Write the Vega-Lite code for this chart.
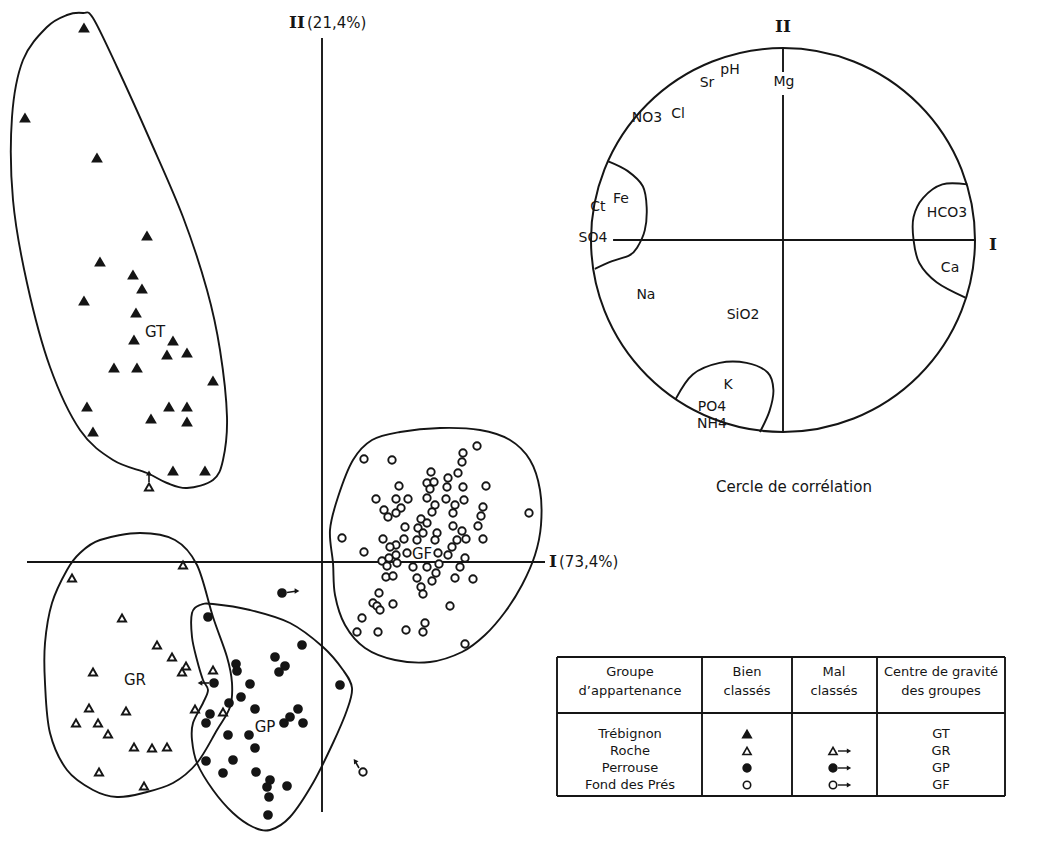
{
"$schema": "https://vega.github.io/schema/vega-lite/v6.json",
"width": 1040, "height": 842,
"autosize": {"type": "fit", "contains": "padding"},
"padding": 0,
"background": "white",
"config": {"view": {"stroke": null}, "font": "DejaVu Sans"},
"datasets": {
"axes_acp": [
 {"x": -2.95, "y": 0, "x2": 2.23, "y2": 0},
 {"x": 0, "y": 5.24, "x2": 0, "y2": -2.50}
],
"enveloppes": [
 {"h":"GT","i":1,"x":-2.39,"y":5.49},{"h":"GT","i":2,"x":-2.29,"y":5.44},{"h":"GT","i":3,"x":-2.05,"y":4.95},{"h":"GT","i":4,"x":-1.72,"y":4.22},{"h":"GT","i":5,"x":-1.39,"y":3.45},{"h":"GT","i":6,"x":-1.15,"y":2.72},{"h":"GT","i":7,"x":-1.02,"y":2.12},{"h":"GT","i":8,"x":-0.95,"y":1.45},{"h":"GT","i":9,"x":-0.99,"y":1.02},{"h":"GT","i":10,"x":-1.09,"y":0.82},{"h":"GT","i":11,"x":-1.35,"y":0.74},{"h":"GT","i":12,"x":-1.55,"y":0.79},{"h":"GT","i":13,"x":-1.75,"y":0.89},{"h":"GT","i":14,"x":-2.09,"y":1.02},{"h":"GT","i":15,"x":-2.42,"y":1.32},{"h":"GT","i":16,"x":-2.72,"y":1.95},{"h":"GT","i":17,"x":-2.95,"y":2.79},{"h":"GT","i":18,"x":-3.09,"y":3.62},{"h":"GT","i":19,"x":-3.10,"y":4.45},{"h":"GT","i":20,"x":-2.99,"y":5.02},{"h":"GT","i":21,"x":-2.75,"y":5.35},{"h":"GT","i":22,"x":-2.55,"y":5.47},
 {"h":"GR","i":1,"x":-2.22,"y":0.22},{"h":"GR","i":2,"x":-1.82,"y":0.29},{"h":"GR","i":3,"x":-1.47,"y":0.22},{"h":"GR","i":4,"x":-1.25,"y":-0.03},{"h":"GR","i":5,"x":-1.09,"y":-0.55},{"h":"GR","i":6,"x":-0.95,"y":-0.95},{"h":"GR","i":7,"x":-0.90,"y":-1.21},{"h":"GR","i":8,"x":-0.92,"y":-1.45},{"h":"GR","i":9,"x":-1.05,"y":-1.68},{"h":"GR","i":10,"x":-1.25,"y":-2.01},{"h":"GR","i":11,"x":-1.49,"y":-2.21},{"h":"GR","i":12,"x":-1.79,"y":-2.31},{"h":"GR","i":13,"x":-2.05,"y":-2.35},{"h":"GR","i":14,"x":-2.29,"y":-2.28},{"h":"GR","i":15,"x":-2.55,"y":-2.08},{"h":"GR","i":16,"x":-2.72,"y":-1.71},{"h":"GR","i":17,"x":-2.77,"y":-1.21},{"h":"GR","i":18,"x":-2.77,"y":-0.81},{"h":"GR","i":19,"x":-2.70,"y":-0.41},{"h":"GR","i":20,"x":-2.55,"y":-0.08},{"h":"GR","i":21,"x":-2.42,"y":0.09},
 {"h":"GP","i":1,"x":-1.22,"y":-0.43},{"h":"GP","i":2,"x":-1.09,"y":-0.42},{"h":"GP","i":3,"x":-0.72,"y":-0.48},{"h":"GP","i":4,"x":-0.32,"y":-0.61},{"h":"GP","i":5,"x":0.01,"y":-0.85},{"h":"GP","i":6,"x":0.21,"y":-1.08},{"h":"GP","i":7,"x":0.30,"y":-1.26},{"h":"GP","i":8,"x":0.25,"y":-1.48},{"h":"GP","i":9,"x":0.11,"y":-1.81},{"h":"GP","i":10,"x":-0.09,"y":-2.21},{"h":"GP","i":11,"x":-0.32,"y":-2.55},{"h":"GP","i":12,"x":-0.52,"y":-2.68},{"h":"GP","i":13,"x":-0.69,"y":-2.65},{"h":"GP","i":14,"x":-0.89,"y":-2.51},{"h":"GP","i":15,"x":-1.09,"y":-2.28},{"h":"GP","i":16,"x":-1.25,"y":-2.01},{"h":"GP","i":17,"x":-1.30,"y":-1.78},{"h":"GP","i":18,"x":-1.29,"y":-1.61},{"h":"GP","i":19,"x":-1.19,"y":-1.41},{"h":"GP","i":20,"x":-1.14,"y":-1.28},{"h":"GP","i":21,"x":-1.19,"y":-1.18},{"h":"GP","i":22,"x":-1.25,"y":-0.98},{"h":"GP","i":23,"x":-1.30,"y":-0.75},{"h":"GP","i":24,"x":-1.30,"y":-0.51},
 {"h":"GF","i":1,"x":0.11,"y":-0.01},{"h":"GF","i":2,"x":0.08,"y":0.32},{"h":"GF","i":3,"x":0.16,"y":0.65},{"h":"GF","i":4,"x":0.31,"y":1.02},{"h":"GF","i":5,"x":0.50,"y":1.22},{"h":"GF","i":6,"x":0.78,"y":1.30},{"h":"GF","i":7,"x":1.18,"y":1.34},{"h":"GF","i":8,"x":1.58,"y":1.32},{"h":"GF","i":9,"x":1.88,"y":1.22},{"h":"GF","i":10,"x":2.08,"y":1.02},{"h":"GF","i":11,"x":2.18,"y":0.72},{"h":"GF","i":12,"x":2.19,"y":0.37},{"h":"GF","i":13,"x":2.13,"y":0.07},{"h":"GF","i":14,"x":2.00,"y":-0.23},{"h":"GF","i":15,"x":1.83,"y":-0.50},{"h":"GF","i":16,"x":1.63,"y":-0.73},{"h":"GF","i":17,"x":1.40,"y":-0.90},{"h":"GF","i":18,"x":1.08,"y":-1.00},{"h":"GF","i":19,"x":0.73,"y":-0.98},{"h":"GF","i":20,"x":0.43,"y":-0.86},{"h":"GF","i":21,"x":0.23,"y":-0.63},{"h":"GF","i":22,"x":0.13,"y":-0.33}
],
"points": [
 {"g":"Trébignon","x":-2.38,"y":5.34},{"g":"Trébignon","x":-2.97,"y":4.44},{"g":"Trébignon","x":-2.25,"y":4.04},{"g":"Trébignon","x":-1.75,"y":3.26},{"g":"Trébignon","x":-2.22,"y":3.00},{"g":"Trébignon","x":-1.89,"y":2.87},{"g":"Trébignon","x":-1.80,"y":2.73},{"g":"Trébignon","x":-2.38,"y":2.61},{"g":"Trébignon","x":-1.86,"y":2.49},{"g":"Trébignon","x":-1.88,"y":2.22},{"g":"Trébignon","x":-1.49,"y":2.21},{"g":"Trébignon","x":-1.55,"y":2.07},{"g":"Trébignon","x":-1.35,"y":2.09},{"g":"Trébignon","x":-2.08,"y":1.94},{"g":"Trébignon","x":-1.85,"y":1.94},{"g":"Trébignon","x":-1.09,"y":1.81},{"g":"Trébignon","x":-2.35,"y":1.55},{"g":"Trébignon","x":-1.53,"y":1.55},{"g":"Trébignon","x":-1.35,"y":1.55},{"g":"Trébignon","x":-1.71,"y":1.43},{"g":"Trébignon","x":-1.35,"y":1.40},{"g":"Trébignon","x":-2.29,"y":1.30},{"g":"Trébignon","x":-1.49,"y":0.91},{"g":"Trébignon","x":-1.17,"y":0.91},
 {"g":"Roche","x":-1.39,"y":-0.03},{"g":"Roche","x":-2.50,"y":-0.16},{"g":"Roche","x":-2.00,"y":-0.56},{"g":"Roche","x":-1.65,"y":-0.83},{"g":"Roche","x":-1.50,"y":-0.95},{"g":"Roche","x":-1.36,"y":-1.04},{"g":"Roche","x":-1.40,"y":-1.10},{"g":"Roche","x":-1.09,"y":-1.08},{"g":"Roche","x":-2.29,"y":-1.10},{"g":"Roche","x":-2.33,"y":-1.46},{"g":"Roche","x":-1.96,"y":-1.49},{"g":"Roche","x":-1.27,"y":-1.47},{"g":"Roche","x":-0.99,"y":-1.50},{"g":"Roche","x":-2.46,"y":-1.61},{"g":"Roche","x":-2.24,"y":-1.61},{"g":"Roche","x":-2.14,"y":-1.72},{"g":"Roche","x":-1.88,"y":-1.85},{"g":"Roche","x":-1.70,"y":-1.86},{"g":"Roche","x":-1.55,"y":-1.85},{"g":"Roche","x":-2.23,"y":-2.10},{"g":"Roche","x":-1.78,"y":-2.24},{"g":"Roche","x":-1.73,"y":0.75},
 {"g":"Perrouse","x":-1.14,"y":-0.55},{"g":"Perrouse","x":-0.20,"y":-0.83},{"g":"Perrouse","x":-0.47,"y":-0.95},{"g":"Perrouse","x":-0.86,"y":-1.02},{"g":"Perrouse","x":-0.85,"y":-1.09},{"g":"Perrouse","x":-0.37,"y":-1.04},{"g":"Perrouse","x":-0.43,"y":-1.10},{"g":"Perrouse","x":-0.72,"y":-1.22},{"g":"Perrouse","x":0.18,"y":-1.23},{"g":"Perrouse","x":-0.81,"y":-1.35},{"g":"Perrouse","x":-0.93,"y":-1.41},{"g":"Perrouse","x":-0.67,"y":-1.47},{"g":"Perrouse","x":-0.24,"y":-1.47},{"g":"Perrouse","x":-1.12,"y":-1.52},{"g":"Perrouse","x":-1.16,"y":-1.61},{"g":"Perrouse","x":-0.32,"y":-1.55},{"g":"Perrouse","x":-0.38,"y":-1.61},{"g":"Perrouse","x":-0.19,"y":-1.61},{"g":"Perrouse","x":-0.94,"y":-1.73},{"g":"Perrouse","x":-0.73,"y":-1.73},{"g":"Perrouse","x":-0.67,"y":-1.86},{"g":"Perrouse","x":-1.16,"y":-1.99},{"g":"Perrouse","x":-0.89,"y":-1.98},{"g":"Perrouse","x":-0.99,"y":-2.11},{"g":"Perrouse","x":-0.66,"y":-2.10},{"g":"Perrouse","x":-0.52,"y":-2.18},{"g":"Perrouse","x":-0.55,"y":-2.25},{"g":"Perrouse","x":-0.35,"y":-2.24},{"g":"Perrouse","x":-0.53,"y":-2.35},{"g":"Perrouse","x":-0.54,"y":-2.53},{"g":"Perrouse","x":-0.40,"y":-0.31},{"g":"Perrouse","x":-1.08,"y":-1.21},
 {"g":"Fond des Prés","x":1.55,"y":1.16},{"g":"Fond des Prés","x":1.41,"y":1.09},{"g":"Fond des Prés","x":1.40,"y":1.00},{"g":"Fond des Prés","x":0.42,"y":1.03},{"g":"Fond des Prés","x":0.70,"y":1.02},{"g":"Fond des Prés","x":1.09,"y":0.90},{"g":"Fond des Prés","x":1.36,"y":0.89},{"g":"Fond des Prés","x":1.26,"y":0.84},{"g":"Fond des Prés","x":1.05,"y":0.79},{"g":"Fond des Prés","x":1.12,"y":0.80},{"g":"Fond des Prés","x":0.77,"y":0.76},{"g":"Fond des Prés","x":1.25,"y":0.75},{"g":"Fond des Prés","x":1.41,"y":0.75},{"g":"Fond des Prés","x":1.64,"y":0.76},{"g":"Fond des Prés","x":1.08,"y":0.73},{"g":"Fond des Prés","x":0.54,"y":0.63},{"g":"Fond des Prés","x":0.74,"y":0.63},{"g":"Fond des Prés","x":0.86,"y":0.63},{"g":"Fond des Prés","x":1.05,"y":0.64},{"g":"Fond des Prés","x":1.24,"y":0.63},{"g":"Fond des Prés","x":1.42,"y":0.62},{"g":"Fond des Prés","x":1.13,"y":0.57},{"g":"Fond des Prés","x":1.33,"y":0.57},{"g":"Fond des Prés","x":1.61,"y":0.55},{"g":"Fond des Prés","x":0.62,"y":0.52},{"g":"Fond des Prés","x":0.79,"y":0.54},{"g":"Fond des Prés","x":0.74,"y":0.49},{"g":"Fond des Prés","x":0.66,"y":0.45},{"g":"Fond des Prés","x":1.10,"y":0.50},{"g":"Fond des Prés","x":1.31,"y":0.49},{"g":"Fond des Prés","x":1.59,"y":0.46},{"g":"Fond des Prés","x":2.07,"y":0.49},{"g":"Fond des Prés","x":0.99,"y":0.43},{"g":"Fond des Prés","x":1.05,"y":0.39},{"g":"Fond des Prés","x":0.83,"y":0.35},{"g":"Fond des Prés","x":0.96,"y":0.34},{"g":"Fond des Prés","x":1.31,"y":0.36},{"g":"Fond des Prés","x":1.56,"y":0.36},{"g":"Fond des Prés","x":1.01,"y":0.29},{"g":"Fond des Prés","x":1.15,"y":0.29},{"g":"Fond des Prés","x":1.40,"y":0.31},{"g":"Fond des Prés","x":0.20,"y":0.24},{"g":"Fond des Prés","x":0.61,"y":0.23},{"g":"Fond des Prés","x":0.82,"y":0.23},{"g":"Fond des Prés","x":0.95,"y":0.22},{"g":"Fond des Prés","x":1.13,"y":0.22},{"g":"Fond des Prés","x":1.35,"y":0.22},{"g":"Fond des Prés","x":1.44,"y":0.23},{"g":"Fond des Prés","x":1.61,"y":0.23},{"g":"Fond des Prés","x":0.74,"y":0.17},{"g":"Fond des Prés","x":0.68,"y":0.15},{"g":"Fond des Prés","x":1.30,"y":0.15},{"g":"Fond des Prés","x":0.42,"y":0.10},{"g":"Fond des Prés","x":0.74,"y":0.07},{"g":"Fond des Prés","x":0.85,"y":0.09},{"g":"Fond des Prés","x":1.16,"y":0.09},{"g":"Fond des Prés","x":1.26,"y":0.07},{"g":"Fond des Prés","x":1.43,"y":0.04},{"g":"Fond des Prés","x":0.60,"y":0.01},{"g":"Fond des Prés","x":0.67,"y":0.04},{"g":"Fond des Prés","x":0.75,"y":-0.01},{"g":"Fond des Prés","x":0.65,"y":-0.04},{"g":"Fond des Prés","x":0.91,"y":-0.05},{"g":"Fond des Prés","x":1.05,"y":-0.05},{"g":"Fond des Prés","x":1.17,"y":-0.02},{"g":"Fond des Prés","x":1.38,"y":-0.05},{"g":"Fond des Prés","x":0.64,"y":-0.15},{"g":"Fond des Prés","x":0.71,"y":-0.14},{"g":"Fond des Prés","x":1.14,"y":-0.11},{"g":"Fond des Prés","x":0.95,"y":-0.16},{"g":"Fond des Prés","x":1.10,"y":-0.19},{"g":"Fond des Prés","x":1.33,"y":-0.16},{"g":"Fond des Prés","x":1.51,"y":-0.17},{"g":"Fond des Prés","x":0.99,"y":-0.25},{"g":"Fond des Prés","x":1.01,"y":-0.32},{"g":"Fond des Prés","x":0.57,"y":-0.31},{"g":"Fond des Prés","x":0.51,"y":-0.41},{"g":"Fond des Prés","x":0.55,"y":-0.44},{"g":"Fond des Prés","x":0.58,"y":-0.48},{"g":"Fond des Prés","x":0.71,"y":-0.42},{"g":"Fond des Prés","x":1.28,"y":-0.44},{"g":"Fond des Prés","x":0.40,"y":-0.56},{"g":"Fond des Prés","x":1.03,"y":-0.61},{"g":"Fond des Prés","x":0.35,"y":-0.70},{"g":"Fond des Prés","x":0.56,"y":-0.70},{"g":"Fond des Prés","x":0.84,"y":-0.68},{"g":"Fond des Prés","x":1.01,"y":-0.70},{"g":"Fond des Prés","x":1.43,"y":-0.82},{"g":"Fond des Prés","x":0.41,"y":-2.10}
],
"fleches": [
 {"x":-0.35,"y":-0.305,"x2":-0.25,"y2":-0.29,"dir":"droite"},
 {"x":-1.13,"y":-1.21,"x2":-1.22,"y2":-1.21,"dir":"gauche"},
 {"x":-1.73,"y":0.80,"x2":-1.73,"y2":0.89,"dir":"haut"},
 {"x":0.37,"y":-2.06,"x2":0.33,"y2":-1.99,"dir":"hautgauche"}
],
"centres": [
 {"t":"GT","x":-1.67,"y":2.30},{"t":"GR","x":-1.87,"y":-1.18},{"t":"GP","x":-0.57,"y":-1.65},{"t":"GF","x":1.00,"y":0.08}
],
"axes_noms": [{"t":"II","x":-0.25,"y":5.39},{"t":"I","x":2.31,"y":0.0}],
"axes_pct": [{"t":"(21,4%)","x":-0.15,"y":5.39},{"t":"(73,4%)","x":2.37,"y":0.0}],
"cercle": [{"x":0,"y":0}],
"cercle_axes": [
 {"x":-0.885,"y":0,"x2":1.0,"y2":0},
 {"x":0,"y":1.0,"x2":0,"y2":0.875},
 {"x":0,"y":0.755,"x2":0,"y2":-1.0}
],
"zones": [
 {"z":"Fe","i":1,"x":-0.91,"y":0.41},{"z":"Fe","i":2,"x":-0.81,"y":0.36},{"z":"Fe","i":3,"x":-0.73,"y":0.28},{"z":"Fe","i":4,"x":-0.71,"y":0.17},{"z":"Fe","i":5,"x":-0.72,"y":0.05},{"z":"Fe","i":6,"x":-0.76,"y":-0.04},{"z":"Fe","i":7,"x":-0.80,"y":-0.08},{"z":"Fe","i":8,"x":-0.89,"y":-0.11},{"z":"Fe","i":9,"x":-0.98,"y":-0.15},
 {"z":"HCO3","i":1,"x":0.96,"y":0.29},{"z":"HCO3","i":2,"x":0.83,"y":0.29},{"z":"HCO3","i":3,"x":0.73,"y":0.22},{"z":"HCO3","i":4,"x":0.68,"y":0.12},{"z":"HCO3","i":5,"x":0.68,"y":0.0},{"z":"HCO3","i":6,"x":0.71,"y":-0.12},{"z":"HCO3","i":7,"x":0.80,"y":-0.22},{"z":"HCO3","i":8,"x":0.95,"y":-0.30},
 {"z":"K","i":1,"x":-0.56,"y":-0.83},{"z":"K","i":2,"x":-0.47,"y":-0.70},{"z":"K","i":3,"x":-0.33,"y":-0.64},{"z":"K","i":4,"x":-0.19,"y":-0.64},{"z":"K","i":5,"x":-0.08,"y":-0.69},{"z":"K","i":6,"x":-0.05,"y":-0.78},{"z":"K","i":7,"x":-0.07,"y":-0.89},{"z":"K","i":8,"x":-0.12,"y":-1.0}
],
"variables": [
 {"t":"Sr","x":-0.396,"y":0.818},{"t":"pH","x":-0.276,"y":0.885},{"t":"Mg","x":0.005,"y":0.823},{"t":"NO3","x":-0.708,"y":0.635},{"t":"Cl","x":-0.547,"y":0.656},{"t":"Fe","x":-0.844,"y":0.214},{"t":"Ct","x":-0.964,"y":0.172},{"t":"SO4","x":-0.99,"y":0.01},{"t":"HCO3","x":0.854,"y":0.141},{"t":"Ca","x":0.87,"y":-0.146},{"t":"Na","x":-0.714,"y":-0.286},{"t":"SiO2","x":-0.208,"y":-0.391},{"t":"K","x":-0.286,"y":-0.755},{"t":"PO4","x":-0.37,"y":-0.87},{"t":"NH4","x":-0.37,"y":-0.958}
],
"cercle_noms": [{"t":"II","x":0,"y":1.11},{"t":"I","x":1.094,"y":-0.026}],
"cercle_titre": [{"t":"Cercle de corrélation","x":0.057,"y":-1.286}],
"tableau_traits": [
 {"x":0,"y":0,"x2":4.48,"y2":0},{"x":0,"y":0.56,"x2":4.48,"y2":0.56},{"x":0,"y":1.39,"x2":4.48,"y2":1.39},
 {"x":0,"y":0,"x2":0,"y2":1.39},{"x":1.45,"y":0,"x2":1.45,"y2":1.39},{"x":2.35,"y":0,"x2":2.35,"y2":1.39},{"x":3.20,"y":0,"x2":3.20,"y2":1.39},{"x":4.48,"y":0,"x2":4.48,"y2":1.39}
],
"tableau_textes": [
 {"t":"Groupe","x":0.73,"y":0.15},{"t":"d’appartenance","x":0.73,"y":0.34},
 {"t":"Bien","x":1.90,"y":0.15},{"t":"classés","x":1.90,"y":0.34},
 {"t":"Mal","x":2.77,"y":0.15},{"t":"classés","x":2.77,"y":0.34},
 {"t":"Centre de gravité","x":3.84,"y":0.15},{"t":"des groupes","x":3.84,"y":0.34},
 {"t":"Trébignon","x":0.73,"y":0.77},{"t":"Roche","x":0.73,"y":0.94},{"t":"Perrouse","x":0.73,"y":1.11},{"t":"Fond des Prés","x":0.73,"y":1.28},
 {"t":"GT","x":3.84,"y":0.77},{"t":"GR","x":3.84,"y":0.94},{"t":"GP","x":3.84,"y":1.11},{"t":"GF","x":3.84,"y":1.28}
],
"tableau_symboles": [
 {"g":"Trébignon","x":1.90,"y":0.77},{"g":"Roche","x":1.90,"y":0.94},{"g":"Perrouse","x":1.90,"y":1.11},{"g":"Fond des Prés","x":1.90,"y":1.28},
 {"g":"Roche","x":2.76,"y":0.94},{"g":"Perrouse","x":2.76,"y":1.11},{"g":"Fond des Prés","x":2.76,"y":1.28}
],
"tableau_fleches": [
 {"x":2.81,"y":0.94,"x2":2.92,"y2":0.94},{"x":2.81,"y":1.11,"x2":2.92,"y2":1.11},{"x":2.81,"y":1.28,"x2":2.92,"y2":1.28}
]
},
"layer": [
 {
  "encoding": {
   "x": {"field":"x","type":"quantitative","scale":{"domain":[-3.22,7.18],"nice":false,"zero":false},"axis":null},
   "y": {"field":"y","type":"quantitative","scale":{"domain":[-2.80,5.62],"nice":false,"zero":false},"axis":null}
  },
  "layer": [
   {"data":{"name":"axes_acp"},"mark":{"type":"rule","color":"#151515","strokeWidth":1.9},"encoding":{"x2":{"field":"x2"},"y2":{"field":"y2"}}},
   {"data":{"name":"enveloppes"},"mark":{"type":"line","interpolate":"cardinal-closed","color":"#151515","strokeWidth":1.9},"encoding":{"detail":{"field":"h","type":"nominal"},"order":{"field":"i","type":"quantitative"}}},
   {"data":{"name":"fleches"},"mark":{"type":"rule","color":"#151515","strokeWidth":1.6},"encoding":{"x2":{"field":"x2"},"y2":{"field":"y2"}}},
   {"data":{"name":"fleches"},"transform":[{"filter":"datum.dir === 'droite'"}],"mark":{"type":"point","shape":"triangle-right","filled":true,"color":"#151515","size":30,"opacity":1},"encoding":{"x":{"field":"x2","type":"quantitative"},"y":{"field":"y2","type":"quantitative"}}},
   {"data":{"name":"fleches"},"transform":[{"filter":"datum.dir === 'gauche'"}],"mark":{"type":"point","shape":"triangle-left","filled":true,"color":"#151515","size":30,"opacity":1},"encoding":{"x":{"field":"x2","type":"quantitative"},"y":{"field":"y2","type":"quantitative"}}},
   {"data":{"name":"fleches"},"transform":[{"filter":"datum.dir === 'haut'"}],"mark":{"type":"point","shape":"triangle-up","filled":true,"color":"#151515","size":36,"opacity":1},"encoding":{"x":{"field":"x2","type":"quantitative"},"y":{"field":"y2","type":"quantitative"}}},
   {"data":{"name":"fleches"},"transform":[{"filter":"datum.dir === 'hautgauche'"}],"mark":{"type":"point","shape":"triangle-up","angle":-35,"filled":true,"color":"#151515","size":28,"opacity":1},"encoding":{"x":{"field":"x2","type":"quantitative"},"y":{"field":"y2","type":"quantitative"}}},
   {"data":{"name":"points"},"mark":{"type":"point","filled":true,"stroke":"#151515","strokeWidth":1.9,"opacity":1},
    "encoding":{
     "shape":{"field":"g","type":"nominal","scale":{"domain":["Trébignon","Roche","Perrouse","Fond des Prés"],"range":["triangle-up","triangle-up","circle","circle"]},"legend":null},
     "fill":{"field":"g","type":"nominal","scale":{"domain":["Trébignon","Roche","Perrouse","Fond des Prés"],"range":["#151515","#ffffff","#151515","#ffffff"]},"legend":null},
     "size":{"field":"g","type":"nominal","scale":{"domain":["Trébignon","Roche","Perrouse","Fond des Prés"],"range":[72,55,88,52]},"legend":null}
    }},
   {"data":{"name":"centres"},"mark":{"type":"text","font":"DejaVu Sans","fontSize":15,"color":"#151515"},"encoding":{"text":{"field":"t"}}},
   {"data":{"name":"axes_noms"},"mark":{"type":"text","font":"DejaVu Serif","fontWeight":"bold","fontSize":17,"color":"#151515"},"encoding":{"text":{"field":"t"}}},
   {"data":{"name":"axes_pct"},"mark":{"type":"text","align":"left","font":"DejaVu Sans","fontSize":15,"color":"#151515"},"encoding":{"text":{"field":"t"}}}
  ]
 },
 {
  "encoding": {
   "x": {"field":"x","type":"quantitative","scale":{"domain":[-4.078,1.3385],"nice":false,"zero":false},"axis":null},
   "y": {"field":"y","type":"quantitative","scale":{"domain":[-3.1354,1.25],"nice":false,"zero":false},"axis":null}
  },
  "layer": [
   {"data":{"name":"cercle"},"mark":{"type":"point","shape":"circle","filled":false,"color":"#151515","strokeWidth":2,"size":147456,"opacity":1}},
   {"data":{"name":"cercle_axes"},"mark":{"type":"rule","color":"#151515","strokeWidth":1.9},"encoding":{"x2":{"field":"x2"},"y2":{"field":"y2"}}},
   {"data":{"name":"zones"},"mark":{"type":"line","interpolate":"cardinal","color":"#151515","strokeWidth":1.9},"encoding":{"detail":{"field":"z","type":"nominal"},"order":{"field":"i","type":"quantitative"}}},
   {"data":{"name":"variables"},"mark":{"type":"text","font":"DejaVu Sans","fontSize":14,"color":"#151515"},"encoding":{"text":{"field":"t"}}},
   {"data":{"name":"cercle_noms"},"mark":{"type":"text","font":"DejaVu Serif","fontWeight":"bold","fontSize":17,"color":"#151515"},"encoding":{"text":{"field":"t"}}},
   {"data":{"name":"cercle_titre"},"mark":{"type":"text","font":"DejaVu Sans","fontSize":15,"color":"#151515"},"encoding":{"text":{"field":"t"}}}
  ]
 },
 {
  "encoding": {
   "x": {"field":"x","type":"quantitative","scale":{"domain":[-5.57,4.83],"nice":false,"zero":false},"axis":null},
   "y": {"field":"y","type":"quantitative","scale":{"domain":[-6.57,1.85],"nice":false,"zero":false,"reverse":true},"axis":null}
  },
  "layer": [
   {"data":{"name":"tableau_traits"},"mark":{"type":"rule","color":"#151515","strokeWidth":1.9},"encoding":{"x2":{"field":"x2"},"y2":{"field":"y2"}}},
   {"data":{"name":"tableau_textes"},"mark":{"type":"text","font":"DejaVu Sans","fontSize":13,"color":"#151515"},"encoding":{"text":{"field":"t"}}},
   {"data":{"name":"tableau_fleches"},"mark":{"type":"rule","color":"#151515","strokeWidth":1.4},"encoding":{"x2":{"field":"x2"},"y2":{"field":"y2"}}},
   {"data":{"name":"tableau_fleches"},"mark":{"type":"point","shape":"triangle-right","filled":true,"color":"#151515","size":26,"opacity":1},"encoding":{"x":{"field":"x2","type":"quantitative"},"y":{"field":"y2","type":"quantitative"}}},
   {"data":{"name":"tableau_symboles"},"mark":{"type":"point","filled":true,"stroke":"#151515","strokeWidth":1.6,"opacity":1},
    "encoding":{
     "shape":{"field":"g","type":"nominal","scale":{"domain":["Trébignon","Roche","Perrouse","Fond des Prés"],"range":["triangle-up","triangle-up","circle","circle"]},"legend":null},
     "fill":{"field":"g","type":"nominal","scale":{"domain":["Trébignon","Roche","Perrouse","Fond des Prés"],"range":["#151515","#ffffff","#151515","#ffffff"]},"legend":null},
     "size":{"field":"g","type":"nominal","scale":{"domain":["Trébignon","Roche","Perrouse","Fond des Prés"],"range":[72,55,88,52]},"legend":null}
    }}
  ]
 }
],
"resolve": {"scale": {"x": "independent", "y": "independent"}}
}
